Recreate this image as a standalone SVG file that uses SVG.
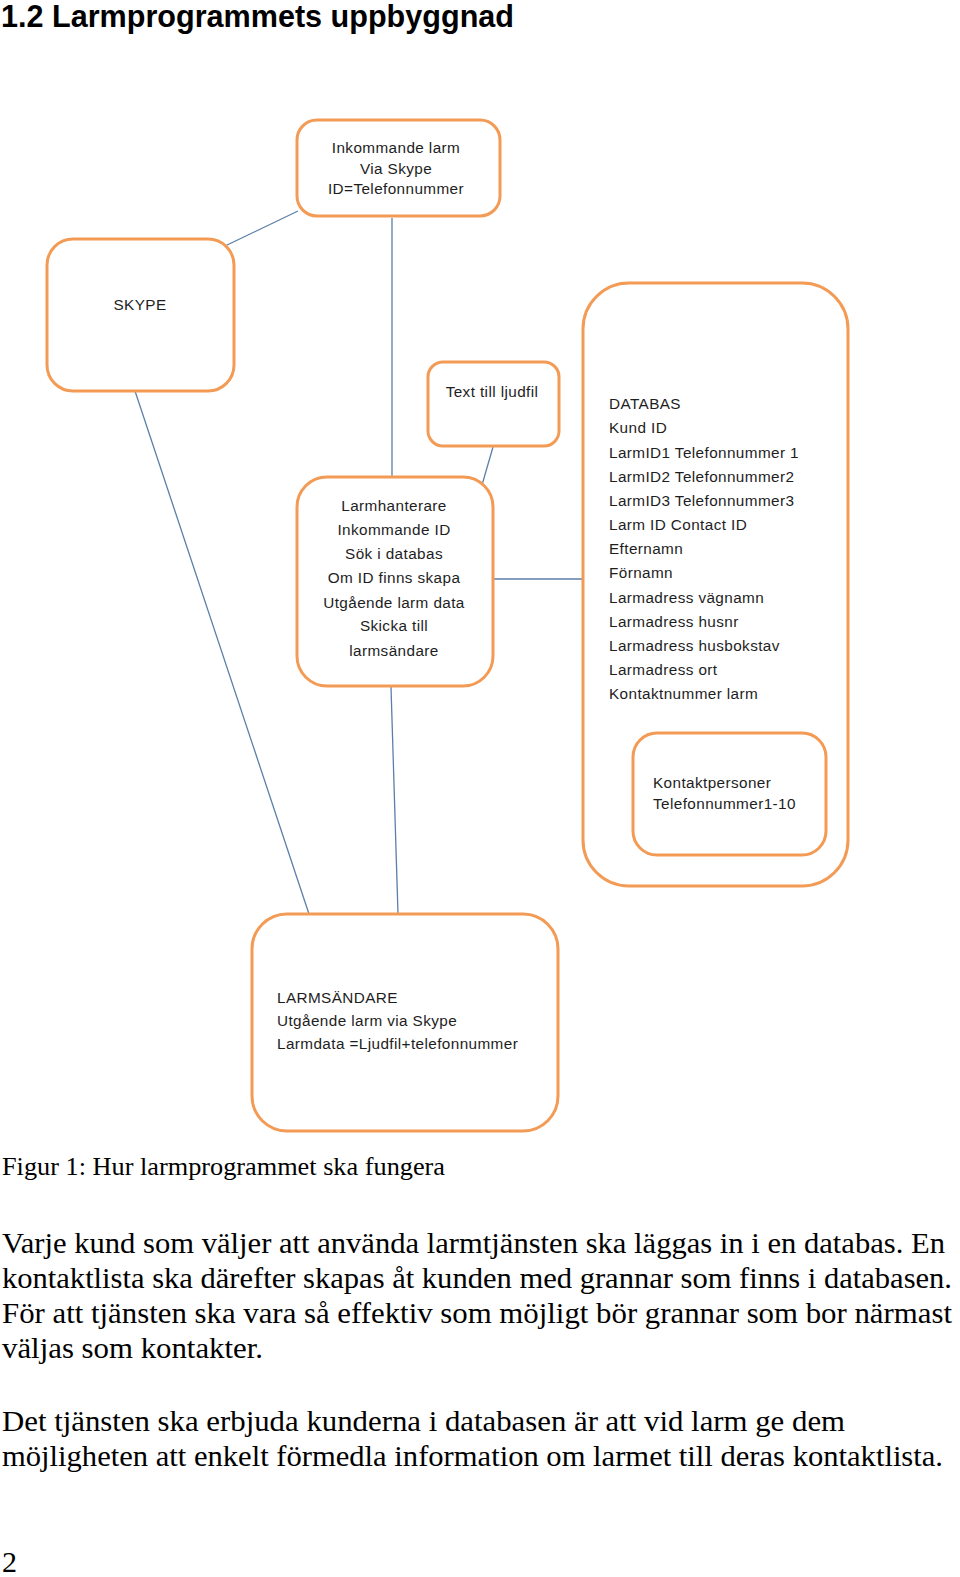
<svg xmlns="http://www.w3.org/2000/svg" width="960" height="1577" viewBox="0 0 960 1577">
  <style>
    .box { fill: #ffffff; stroke: #F39B55; stroke-width: 3; }
    .conn { stroke: #5B7FA8; stroke-width: 1.3; fill: none; }
    .lbl { font-family: "Liberation Sans", Arial, sans-serif; font-size: 15.3px; fill: #1e1e1e; letter-spacing: 0.4px; }
    .mid { text-anchor: middle; }
    .title { font-family: "Liberation Sans", Arial, sans-serif; font-size: 30.5px; font-weight: bold; fill: #000; }
    .body { font-family: "Liberation Serif", "Times New Roman", serif; font-size: 30px; fill: #000; }
    .cap { font-family: "Liberation Serif", "Times New Roman", serif; font-size: 25.5px; fill: #000; }
  </style>
  <rect width="960" height="1577" fill="#ffffff"/>

  <text class="title" x="1" y="27" textLength="513" lengthAdjust="spacingAndGlyphs">1.2 Larmprogrammets uppbyggnad</text>

  <g id="connectors">
    <line class="conn" x1="225" y1="246" x2="298" y2="211"/>
    <line class="conn" x1="392" y1="218" x2="392" y2="477"/>
    <line class="conn" x1="493" y1="447" x2="482" y2="485"/>
    <line class="conn" x1="494" y1="579" x2="582" y2="579"/>
    <line class="conn" x1="391" y1="687" x2="398" y2="914"/>
    <line class="conn" x1="135" y1="391" x2="311" y2="920"/>
  </g>

  <g id="inkommande">
    <rect class="box" x="297" y="120" width="203" height="96" rx="20"/>
    <text class="lbl mid" x="396" y="153">Inkommande  larm</text>
    <text class="lbl mid" x="396" y="174">Via Skype</text>
    <text class="lbl mid" x="396" y="194">ID=Telefonnummer</text>
  </g>

  <g id="skype">
    <rect class="box" x="47" y="239" width="187" height="152" rx="26"/>
    <text class="lbl mid" x="140" y="310">SKYPE</text>
  </g>

  <g id="textljudfil">
    <rect class="box" x="428" y="362" width="131" height="84" rx="15"/>
    <text class="lbl mid" x="492" y="397">Text till ljudfil</text>
  </g>

  <g id="larmhanterare">
    <rect class="box" x="297" y="477" width="196" height="209" rx="30"/>
    <text class="lbl mid" x="394" y="511">Larmhanterare</text>
    <text class="lbl mid" x="394" y="535">Inkommande  ID</text>
    <text class="lbl mid" x="394" y="559">Sök i databas</text>
    <text class="lbl mid" x="394" y="583">Om ID finns skapa</text>
    <text class="lbl mid" x="394" y="608">Utgående  larm  data</text>
    <text class="lbl mid" x="394" y="631">Skicka till</text>
    <text class="lbl mid" x="394" y="656">larmsändare</text>
  </g>

  <g id="databas">
    <rect class="box" x="583" y="283" width="265" height="603" rx="46"/>
    <text class="lbl" x="609" y="409">DATABAS</text>
    <text class="lbl" x="609" y="433">Kund ID</text>
    <text class="lbl" x="609" y="458">LarmID1 Telefonnummer 1</text>
    <text class="lbl" x="609" y="482">LarmID2 Telefonnummer2</text>
    <text class="lbl" x="609" y="506">LarmID3 Telefonnummer3</text>
    <text class="lbl" x="609" y="530">Larm ID Contact  ID</text>
    <text class="lbl" x="609" y="554">Efternamn</text>
    <text class="lbl" x="609" y="578">Förnamn</text>
    <text class="lbl" x="609" y="603">Larmadress vägnamn</text>
    <text class="lbl" x="609" y="627">Larmadress husnr</text>
    <text class="lbl" x="609" y="651">Larmadress husbokstav</text>
    <text class="lbl" x="609" y="675">Larmadress ort</text>
    <text class="lbl" x="609" y="699">Kontaktnummer  larm</text>
  </g>

  <g id="kontaktpersoner">
    <rect class="box" x="633" y="733" width="193" height="122" rx="24"/>
    <text class="lbl" x="653" y="788">Kontaktpersoner</text>
    <text class="lbl" x="653" y="809">Telefonnummer1-10</text>
  </g>

  <g id="larmsandare">
    <rect class="box" x="252" y="914" width="306" height="217" rx="35"/>
    <text class="lbl" x="277" y="1003">LARMSÄNDARE</text>
    <text class="lbl" x="277" y="1026">Utgående  larm  via Skype</text>
    <text class="lbl" x="277" y="1049">Larmdata =Ljudfil+telefonnummer</text>
  </g>

  <text class="cap" x="2" y="1175" textLength="443" lengthAdjust="spacingAndGlyphs">Figur 1: Hur larmprogrammet ska fungera</text>

  <text class="body" x="2" y="1253" textLength="943" lengthAdjust="spacingAndGlyphs">Varje kund som väljer att använda larmtjänsten ska läggas in i en databas. En</text>
  <text class="body" x="2" y="1288" textLength="950" lengthAdjust="spacingAndGlyphs">kontaktlista ska därefter skapas åt kunden med grannar som finns i databasen.</text>
  <text class="body" x="2" y="1323" textLength="950" lengthAdjust="spacingAndGlyphs">För att tjänsten ska vara så effektiv som möjligt bör grannar som bor närmast</text>
  <text class="body" x="2" y="1358" textLength="261" lengthAdjust="spacingAndGlyphs">väljas som kontakter.</text>

  <text class="body" x="2" y="1431" textLength="843" lengthAdjust="spacingAndGlyphs">Det tjänsten ska erbjuda kunderna i databasen är att vid larm ge dem</text>
  <text class="body" x="2" y="1466" textLength="941" lengthAdjust="spacingAndGlyphs">möjligheten att enkelt förmedla information om larmet till deras kontaktlista.</text>

  <text class="body" x="2" y="1572">2</text>
</svg>
